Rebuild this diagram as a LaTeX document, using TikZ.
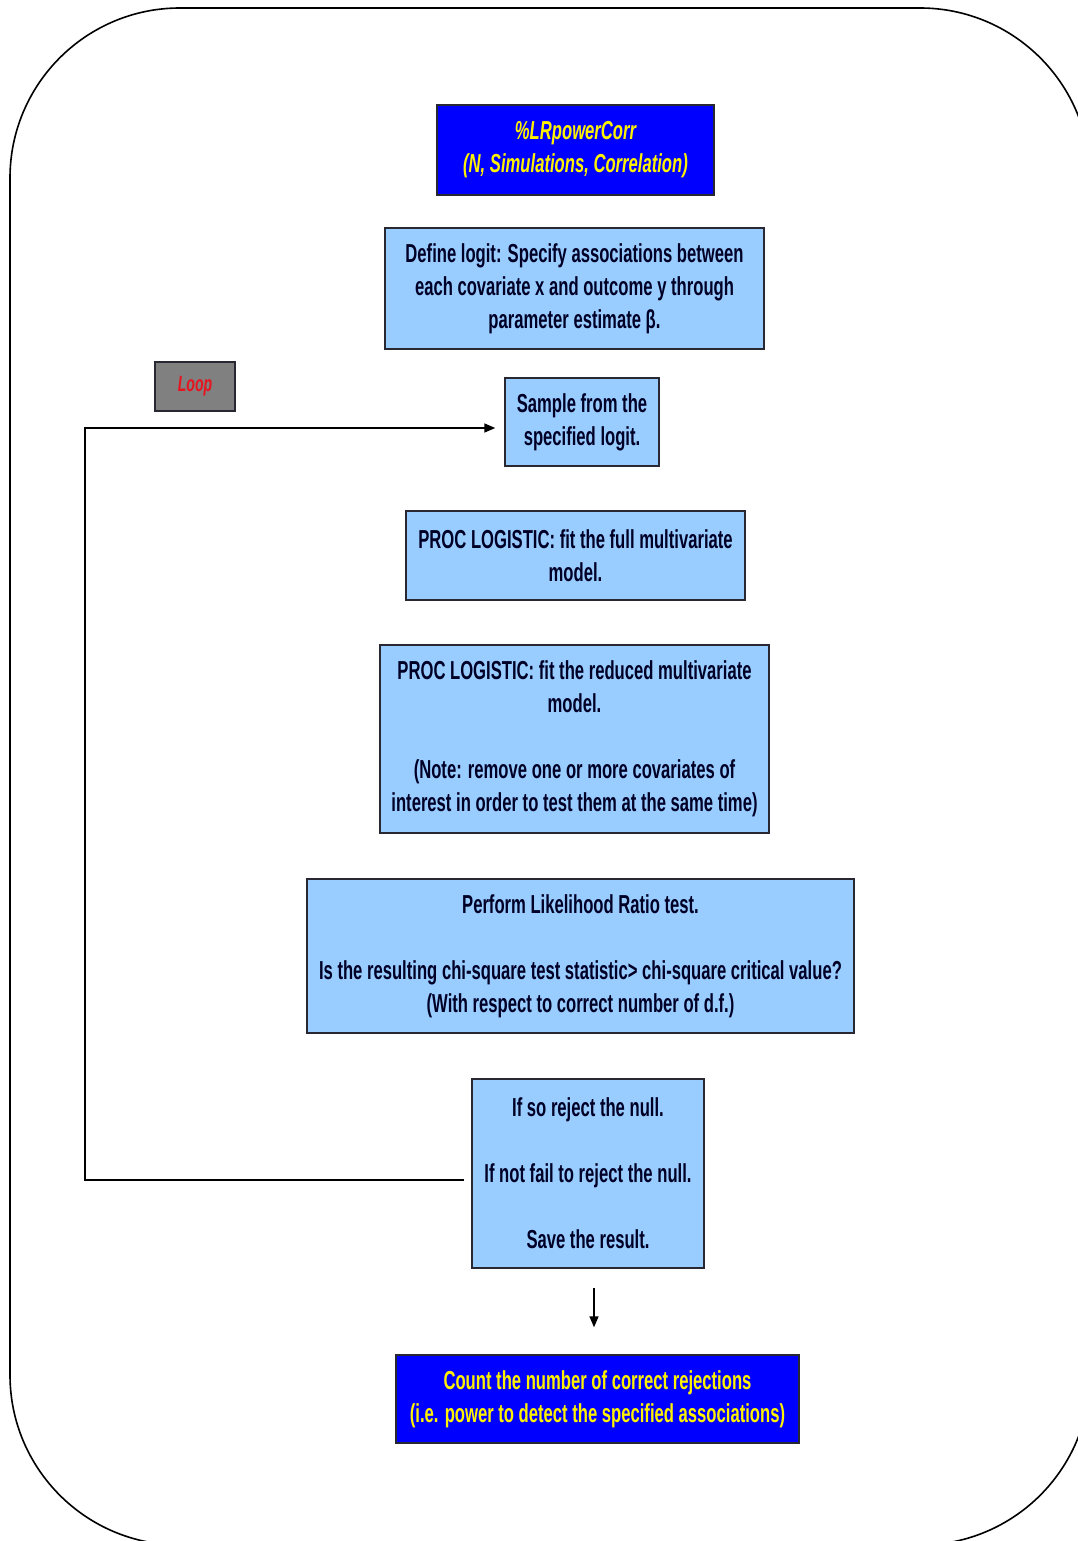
\documentclass[tikz,border=0pt]{standalone}
\usepackage{fontspec}
\setmainfont{Liberation Sans}[FakeStretch=0.64]
\usetikzlibrary{arrows.meta}
\definecolor{lightbox}{RGB}{153,204,255}
\definecolor{deepblue}{RGB}{0,0,255}
\definecolor{boxedge}{RGB}{40,40,50}
\definecolor{loopgray}{RGB}{128,128,128}
\definecolor{loopred}{RGB}{230,20,30}
\tikzset{
  lbox/.style={draw=boxedge, line width=1.4pt, fill=lightbox, inner sep=0pt, align=center,
    font=\fontsize{26}{33}\selectfont\bfseries, text=black!85!blue},
  bbox/.style={draw=boxedge, line width=1.4pt, fill=deepblue, inner sep=0pt, align=center,
    font=\fontsize{26}{33}\selectfont\bfseries, text=yellow},
  conn/.style={line width=1.4pt, draw=black},
  tip/.style={-{Triangle[length=11pt,width=9pt]}}
}
\begin{document}
\begin{tikzpicture}[x=1pt,y=-1pt]
\useasboundingbox (0,0) rectangle (1078,1541);
\begin{scope}
\clip (0,0) rectangle (1078,1541);
\draw[line width=1.6pt, rounded corners=170pt] (10,8) rectangle (1090,1545);
\end{scope}

\node[bbox, minimum width=277pt, minimum height=90pt, font=\fontsize{26}{33}\selectfont\bfseries\itshape] (top) at (575.5,150)
  {\%LRpowerCorr\\(N, Simulations, Correlation)};
\node[lbox, minimum width=379pt, minimum height=121pt] (def) at (574.5,288.5)
  {Define logit: Specify associations between\\each covariate x and outcome y through\\parameter estimate β.};
\node[lbox, minimum width=154pt, minimum height=88pt] (samp) at (582,422)
  {Sample from the\\specified logit.};
\node[lbox, minimum width=339pt, minimum height=89pt] (full) at (575.5,555.5)
  {PROC LOGISTIC: fit the full multivariate\\model.};
\node[lbox, minimum width=389pt, minimum height=188pt] (red) at (574.5,739)
  {PROC LOGISTIC: fit the reduced multivariate\\model.\\[33pt](Note: remove one or more covariates of\\interest in order to test them at the same time)};
\node[lbox, minimum width=547pt, minimum height=154pt] (lr) at (580.5,956)
  {Perform Likelihood Ratio test.\\[33pt]Is the resulting chi-square test statistic> chi-square critical value?\\(With respect to correct number of d.f.)};
\node[lbox, minimum width=232pt, minimum height=189pt] (rej) at (588,1173.5)
  {If so reject the null.\\[33pt]If not fail to reject the null.\\[33pt]Save the result.};
\node[bbox, minimum width=403pt, minimum height=88pt] (count) at (597.5,1399)
  {Count the number of correct rejections\\(i.e. power to detect the specified associations)};
\node[draw=boxedge, line width=1.4pt, fill=loopgray, minimum width=80pt, minimum height=49pt,
  font=\fontsize{22}{26}\selectfont\itshape\bfseries, text=loopred] (loop) at (195,386.5) {Loop};

\coordinate (lbot) at (85,1180);
\coordinate (ltop) at (85,428);
\draw[conn, tip] ([xshift=-7pt]rej.west |- lbot) -- (lbot) -- (ltop) -- ([xshift=-9pt]samp.west |- ltop);
\coordinate (dstart) at (594,1288);
\draw[conn, tip] (dstart) -- ([yshift=27pt]count.north -| dstart);
\end{tikzpicture}
\end{document}
